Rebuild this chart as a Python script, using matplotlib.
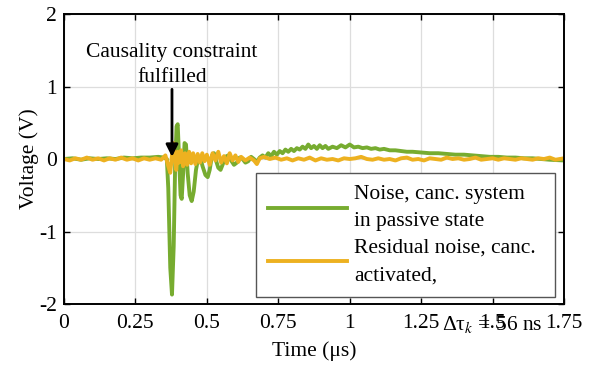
# noise cancellation: time-domain voltage, passive vs activated canceller
import matplotlib
matplotlib.use("Agg")
import matplotlib.pyplot as plt
import numpy as np

plt.rcParams['font.family'] = ['Liberation Serif', 'DejaVu Serif']
plt.rcParams['mathtext.fontset'] = 'stix'
plt.rcParams['axes.unicode_minus'] = False

# green: canceller in passive state (time in us, voltage in V)
t_passive = [0.00, 0.03, 0.06, 0.09, 0.12, 0.15, 0.18, 0.21, 0.24, 0.27, 0.30, 0.33, 0.35,
             0.36, 0.365, 0.372, 0.378, 0.384, 0.389, 0.394, 0.398, 0.403, 0.408, 0.412,
             0.417, 0.422, 0.427, 0.433, 0.440, 0.447, 0.454, 0.462, 0.470, 0.477, 0.485,
             0.495, 0.503, 0.51, 0.518, 0.525, 0.532, 0.54, 0.548, 0.555, 0.565, 0.575,
             0.585, 0.595, 0.605, 0.615, 0.625, 0.635, 0.645, 0.655, 0.665, 0.675, 0.685,
             0.695, 0.705, 0.715, 0.725, 0.735, 0.745, 0.755, 0.765, 0.775, 0.785, 0.795,
             0.805, 0.815, 0.825, 0.835, 0.845, 0.855, 0.865, 0.875, 0.885, 0.895, 0.905,
             0.915, 0.925, 0.94, 0.955, 0.97, 0.985, 1.0, 1.015, 1.03, 1.045, 1.06, 1.075,
             1.09, 1.105, 1.12, 1.14, 1.16, 1.18, 1.20, 1.22, 1.25, 1.28, 1.31, 1.34, 1.37,
             1.40, 1.43, 1.46, 1.49, 1.52, 1.55, 1.58, 1.61, 1.64, 1.67, 1.70, 1.75]
v_passive = [0.00, 0.01, -0.01, 0.01, 0.00, 0.01, 0.00, 0.02, 0.01, 0.02, 0.02, 0.03, 0.02,
             0.00, -0.4, -1.5, -1.87, -1.2, -0.1, 0.45, 0.48, 0.0, -0.5, -0.55,
             -0.2, 0.22, 0.2, -0.2, -0.5, -0.58, -0.45, -0.15, 0.02, 0.02, -0.1,
             -0.22, -0.25, -0.15, 0.05, 0.08, -0.02, -0.12, -0.15, -0.08, 0.03, 0.05,
             -0.02, -0.08, -0.05, 0.02, 0.0, -0.05, -0.03, 0.03, 0.0, -0.04, 0.02,
             0.05, 0.02, 0.08, 0.04, 0.1, 0.06, 0.11, 0.08, 0.13, 0.1, 0.14,
             0.11, 0.15, 0.13, 0.17, 0.14, 0.2, 0.15, 0.18, 0.14, 0.19, 0.15,
             0.18, 0.14, 0.17, 0.15, 0.19, 0.16, 0.2, 0.16, 0.17, 0.15, 0.16, 0.14,
             0.15, 0.13, 0.14, 0.12, 0.12, 0.11, 0.1, 0.1, 0.09, 0.08, 0.08, 0.07, 0.06,
             0.06, 0.05, 0.04, 0.03, 0.03, 0.02, 0.02, 0.01, 0.01, 0.00, -0.01, -0.02]

# orange: residual noise with canceller activated
t_active = [0.00, 0.02, 0.04, 0.06, 0.08, 0.10, 0.12, 0.14, 0.16, 0.18, 0.20, 0.22, 0.24,
            0.26, 0.28, 0.30, 0.32, 0.34, 0.355, 0.365, 0.372, 0.378, 0.383, 0.388, 0.393,
            0.398, 0.403, 0.41, 0.417, 0.424, 0.431, 0.438, 0.445, 0.452, 0.46, 0.468,
            0.476, 0.484, 0.492, 0.50, 0.51, 0.52, 0.53, 0.54, 0.55, 0.56, 0.57, 0.58,
            0.59, 0.60, 0.61, 0.62, 0.635, 0.65, 0.665, 0.675, 0.685, 0.70, 0.72, 0.74,
            0.76, 0.78, 0.80, 0.82, 0.84, 0.86, 0.88, 0.90, 0.92, 0.94, 0.96, 0.98, 1.00,
            1.02, 1.04, 1.06, 1.08, 1.10, 1.12, 1.14, 1.16, 1.18, 1.20, 1.22, 1.24, 1.26,
            1.28, 1.30, 1.32, 1.34, 1.36, 1.38, 1.40, 1.42, 1.44, 1.46, 1.48, 1.50, 1.52,
            1.54, 1.56, 1.58, 1.60, 1.62, 1.64, 1.66, 1.68, 1.70, 1.72, 1.75]
v_active = [0.0, -0.02, 0.01, -0.01, 0.02, -0.01, 0.01, -0.02, 0.01, -0.01, 0.02, -0.01, 0.01,
            -0.02, 0.01, -0.01, 0.01, -0.01, 0.05, -0.1, -0.19, 0.05, 0.22, 0.0, -0.15,
            0.1, -0.05, 0.12, -0.1, 0.08, -0.08, 0.1, -0.06, 0.08, -0.07, 0.07,
            -0.05, 0.08, -0.03, 0.06, -0.08, 0.08, -0.02, 0.1, -0.05, 0.04, -0.06, 0.08,
            -0.02, 0.05, -0.04, 0.03, -0.02, 0.02, -0.02, -0.07, 0.01, 0.03, 0.0, 0.02,
            -0.01, 0.01, -0.02, 0.01, -0.01, 0.02, -0.02, 0.01, -0.01, 0.0, -0.02, 0.01, 0.0,
            0.01, 0.03, 0.0, -0.01, 0.01, -0.01, 0.0, -0.02, 0.01, 0.02, -0.01, 0.0, -0.02,
            0.01, 0.0, -0.01, 0.02, 0.0, 0.01, -0.01, 0.0, 0.02, -0.01, 0.0, 0.01, -0.01,
            0.01, 0.0, -0.01, 0.01, 0.0, -0.01, 0.01, 0.0, 0.02, -0.01, 0.01]

x_ticks = [0, 0.25, 0.5, 0.75, 1, 1.25, 1.5, 1.75]
x_tick_labels = ['0', '0.25', '0.5', '0.75', '1', '1.25', '1.5', '1.75']
y_ticks = [-2, -1, 0, 1, 2]

green = '#77AC30'
orange = '#EDB120'
fs = 15.5
tick_pad = 7

fig = plt.figure(figsize=(5.99, 3.65), dpi=100)
ax = fig.add_axes([0.1068, 0.1671, 0.8348, 0.7945])

ax.plot(t_passive, v_passive, color=green, lw=2.8,
        label='Noise, canc. system\nin passive state')
ax.plot(t_active, v_active, color=orange, lw=2.8,
        label='Residual noise, canc.\nactivated,')

ax.set_xlim(0, 1.75)
ax.set_ylim(-2, 2)
ax.set_xticks(x_ticks)
ax.set_xticklabels(x_tick_labels)
ax.set_yticks(y_ticks)
ax.tick_params(direction='in', top=True, right=True, length=4, width=1,
               labelsize=fs, pad=tick_pad)
ax.tick_params(axis='y', pad=5)
ax.grid(True, color='#dddddd', lw=0.9)
ax.set_axisbelow(True)
for s in ax.spines.values():
    s.set_linewidth(1.4)

ax.set_xlabel('Time (μs)', fontsize=fs, labelpad=6)
ax.set_ylabel('Voltage (V)', fontsize=fs, labelpad=0)

# leftover of the legend text that spilled onto the tick labels
ax.annotate(r'Δτ$_k$ = 56 ns', xy=(1.5, 0), xycoords=('data', 'axes fraction'),
            xytext=(0, -tick_pad), textcoords='offset points',
            ha='center', va='top', fontsize=fs)

ax.annotate('Causality constraint\nfulfilled', xy=(0.378, 0.03), xytext=(0.378, 1.0),
            ha='center', va='bottom', fontsize=fs, linespacing=1.4,
            arrowprops=dict(arrowstyle='-|>', color='black', lw=2.0,
                            mutation_scale=18, shrinkA=0, shrinkB=0))

leg = ax.legend(loc='lower left', bbox_to_anchor=(0.384, 0.024, 0.598, 0.431),
                mode='expand', borderaxespad=0,
                fontsize=fs, handlelength=3.7, handletextpad=0.3, labelspacing=0.35,
                fancybox=False, framealpha=1, edgecolor='#555555', borderpad=0.55)
leg.get_frame().set_linewidth(1.0)
for txt in leg.get_texts():
    txt.set_linespacing(1.6)

fig.savefig('out.png', dpi=100)
